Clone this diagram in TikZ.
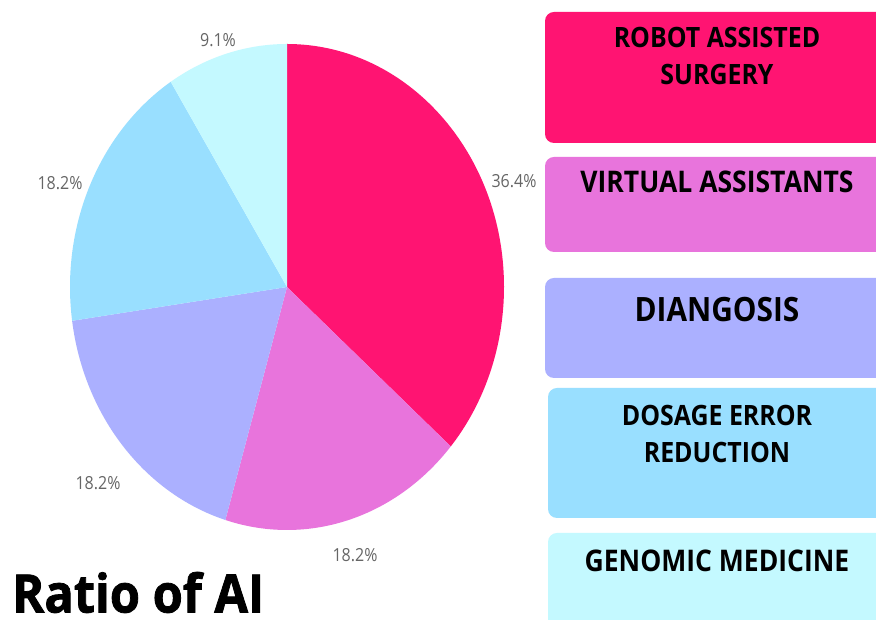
\documentclass[tikz,border=0pt]{standalone}
\usepackage{fontspec}
\setmainfont{Open Sans}[FakeStretch=0.89]
\newfontfamily\titlefont{Open Sans}[FakeStretch=0.92, BoldFeatures={FakeBold=1.5}]
\usepackage{tikz}
\usetikzlibrary{positioning}

\definecolor{pinkA}{HTML}{FF1472}
\definecolor{violetA}{HTML}{E874DC}
\definecolor{lavA}{HTML}{ABB0FF}
\definecolor{blueA}{HTML}{99DFFF}
\definecolor{cyanA}{HTML}{C4F9FF}
\definecolor{pctgray}{HTML}{666666}

\tikzset{
  legbox/.style={rectangle, rounded corners=9pt, minimum width=344pt, inner sep=0pt},
  legtext/.style={font=\bfseries\fontsize{28}{37}\selectfont, align=center, inner sep=0pt, text=black},
  pctlabel/.style={font=\fontsize{18}{20}\selectfont, text=pctgray, inner sep=0pt}
}

\begin{document}
\begin{tikzpicture}[x=1pt, y=1pt]
    \clip (0,0) rectangle (876,620);
    \fill[white] (0,0) rectangle (876,620);

    % Pie (slightly taller than wide: 217 x 243)
    \coordinate (c) at (287,333);
    \foreach \a/\b/\col in {90/-41/pinkA, -41/-106.5/violetA, -106.5/-172/lavA, -172/-237.6/blueA, -237.6/-270/cyanA} {
        \fill[\col] (c) -- ++(\a:217 and 243) arc[start angle=\a, end angle=\b, x radius=217, y radius=243] -- cycle;
    }

    % Percent labels
    \node[pctlabel] (pRobot) at (514,439) {36.4\%};
    \node[pctlabel] (pVirtual) at (355,65) {18.2\%};
    \node[pctlabel] (pDiag) at (98,137) {18.2\%};
    \node[pctlabel] (pDosage) at (60,437) {18.2\%};
    \node[pctlabel] (pGenomic) at (218,580) {9.1\%};

    % Legend boxes
    \node[legbox, fill=pinkA, minimum height=131pt] (robot) at (717,542.5) {};
    \node[legbox, fill=violetA, minimum height=95pt] (virtual) at (717,415.5) {};
    \node[legbox, fill=lavA, minimum height=100pt] (diag) at (717,292) {};
    \node[legbox, fill=blueA, minimum height=130pt, minimum width=338pt] (dosage) at (717,167) {};
    \node[legbox, fill=cyanA, minimum height=130pt, minimum width=338pt] (genomic) at (717,22) {};

    % Legend texts
    \node[legtext, below=15pt of robot.north] (robotT) {ROBOT ASSISTED\\SURGERY};
    \node[legtext, font=\bfseries\fontsize{29.8}{37}\selectfont, below=14pt of virtual.north] (virtualT) {VIRTUAL ASSISTANTS};
    \node[legtext, font=\bfseries\fontsize{33.5}{40}\selectfont, below=19pt of diag.north] (diagT) {DIANGOSIS};
    \node[legtext, below=17pt of dosage.north] (dosageT) {DOSAGE ERROR\\REDUCTION};
    \node[legtext, font=\bfseries\fontsize{29.8}{37}\selectfont, below=17pt of genomic.north] (genomicT) {GENOMIC MEDICINE};

    % Title
    \node[font=\titlefont\bfseries\fontsize{53}{60}\selectfont, anchor=base west, inner sep=0pt] (title) at (12,7.5) {Ratio of AI};
\end{tikzpicture}
\end{document}
